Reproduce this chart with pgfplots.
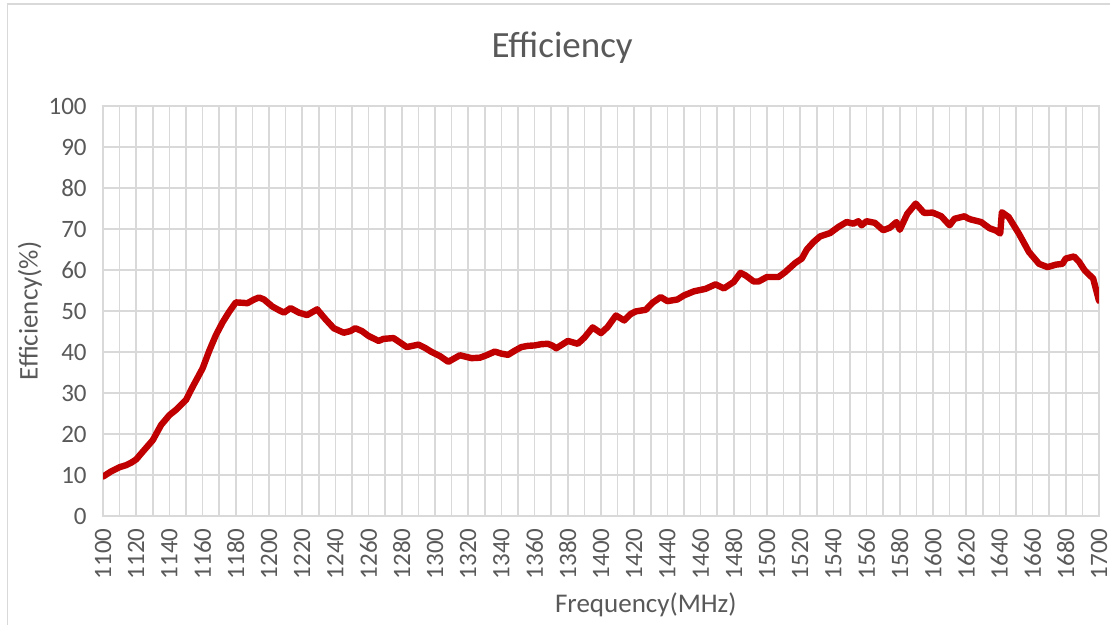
\documentclass[border=0pt]{standalone}
\usepackage{fontspec}
\setmainfont{Carlito}
\usepackage{pgfplots}
\pgfplotsset{compat=1.18}
\definecolor{txt}{HTML}{595959}
\definecolor{grd}{HTML}{D9D9D9}
\definecolor{ln}{HTML}{C00000}
\begin{document}
\begin{tikzpicture}
\useasboundingbox (0pt,0pt) rectangle (555pt,312.5pt);
\draw[grd, line width=0.8pt] (3.75pt,-20pt) -- (3.75pt,310.5pt) -- (600pt,310.5pt);
\begin{axis}[
  at={(51.5pt,54.5pt)}, anchor=south west,
  width=498pt, height=205pt, scale only axis,
  xmin=1100, xmax=1700, ymin=0, ymax=100,
  xtick distance=20, ytick distance=10,
  minor x tick num=1,
  grid=both,
  major grid style={grd, line width=0.75pt},
  minor grid style={grd, line width=0.75pt},
  axis line style={grd, line width=0.75pt},
  major tick length=0pt, minor tick length=0pt,
  /pgf/number format/assume math mode=true,
  /pgf/number format/1000 sep={},
  tick label style={font=\fontsize{12.5}{14}\selectfont, text=txt},
  xticklabel style={rotate=90, anchor=east, inner sep=0pt, xshift=-6pt},
  yticklabel style={anchor=east, inner sep=0pt, xshift=-8pt},
  xlabel={Frequency(MHz)},
  ylabel={Efficiency(\%)},
  title={Efficiency},
  every axis title shift=0pt,
  label style={font=\fontsize{13.5}{15}\selectfont, text=txt},
  xlabel style={at={(axis description cs:0.545,-0.217)}, anchor=center},
  ylabel style={at={(axis description cs:-0.0733,0.5)}, anchor=center, rotate=0},
  title style={at={(axis description cs:0.461,1.141)}, anchor=center, font=\fontsize{18.5}{20}\selectfont, text=txt},
]
\addplot[ln, line width=3.2pt, line join=round, line cap=round] coordinates {
(1100,9.6) (1105,10.9) (1110,11.9) (1114,12.4) (1117,13.0) (1120,13.8)
(1124,15.7) (1130,18.5) (1135,22.2) (1140,24.6) (1144,25.9) (1150,28.3)
(1154,31.5) (1160,36.0) (1164,40.3) (1168,44.1) (1172,47.2) (1176,49.8)
(1180,52.1) (1184,52.0) (1187,51.9) (1191,52.8) (1194,53.3) (1197,52.8)
(1202,51.1) (1206,50.2) (1209,49.6) (1213,50.7) (1218,49.6) (1223,49.0)
(1229,50.4) (1234,48.0) (1239,45.8) (1245,44.7) (1249,45.1) (1252,45.8)
(1256,45.1) (1260,43.9) (1266,42.7) (1269,43.2) (1275,43.4) (1279,42.3)
(1283,41.2) (1290,41.8) (1294,41.0) (1298,40.0) (1303,39.0) (1308,37.6)
(1315,39.2) (1322,38.5) (1327,38.6) (1331,39.2) (1336,40.1) (1340,39.6)
(1344,39.3) (1348,40.3) (1352,41.2) (1356,41.5) (1360,41.6) (1364,41.9)
(1368,42.0) (1371,41.5) (1373,40.9) (1377,41.9) (1380,42.7) (1386,42.0)
(1390,43.5) (1395,46.0) (1400,44.6) (1404,46.1) (1409,48.9) (1414,47.7)
(1418,49.3) (1421,49.9) (1427,50.3) (1431,52.0) (1436,53.4) (1440,52.4)
(1446,52.8) (1450,53.8) (1456,54.8) (1463,55.4) (1469,56.5) (1474,55.5)
(1480,57.1) (1484,59.3) (1487,58.7) (1492,57.2) (1495,57.2) (1500,58.3)
(1507,58.3) (1511,59.5) (1517,61.7) (1521,62.8) (1524,65.0) (1528,66.8)
(1532,68.2) (1538,69.0) (1543,70.5) (1548,71.7) (1552,71.3) (1555,71.9)
(1557,70.9) (1560,71.9) (1565,71.5) (1570,69.7) (1574,70.3) (1578,71.7)
(1580,69.8) (1584.5,73.7) (1589.6,76.2) (1594.7,73.9) (1599.8,74.0) (1605,73.1)
(1610,70.9) (1613,72.5) (1619,73.1) (1621,72.6) (1623,72.3) (1629,71.7)
(1634,70.2) (1638,69.6) (1640.5,68.9) (1641.5,74.1) (1645.6,72.9) (1651.7,68.9)
(1657.8,64.4) (1663.9,61.5) (1669,60.7) (1674,61.3) (1678,61.5) (1680,62.8)
(1685,63.3) (1688,62.0) (1691.4,59.9) (1696.5,57.9) (1700,52.5)
};
\end{axis}
\end{tikzpicture}
\end{document}
